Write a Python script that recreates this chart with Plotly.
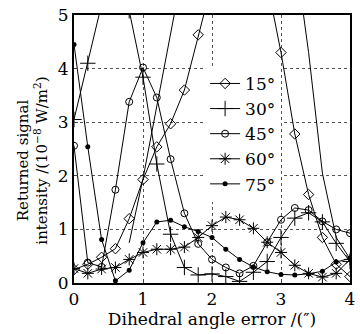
import plotly.graph_objects as go

x = [0.0, 0.2, 0.4, 0.6, 0.8, 1.0, 1.2, 1.4, 1.6, 1.8, 2.0, 2.2, 2.4, 2.6, 2.8, 3.0, 3.2, 3.4, 3.6, 3.8, 4.0]

s15 = [0.25, 0.35, 0.48, 0.64, 1.20, 1.93, 2.54, 2.97, 3.60, 4.63, 5.6, 6.3, 6.5, 6.3, 5.6, 4.30, 2.78, 1.65, 0.85, 0.35, 0.12]
s30 = [3.05, 4.10, 5.20, 5.80, 5.08, 3.84, 2.22, 0.91, 0.29, 0.15, 0.17, 0.12, 0.03, 0.20, 0.40, 0.85, 1.21, 1.31, 1.14, 0.74, 0.40]
s45 = [2.56, 0.38, 0.30, 1.74, 3.38, 4.02, 3.46, 2.31, 1.30, 0.73, 0.44, 0.29, 0.18, 0.32, 0.76, 1.18, 1.40, 1.36, 1.15, 1.00, 0.93]
s60 = [0.27, 0.18, 0.26, 0.29, 0.44, 0.57, 0.63, 0.63, 0.67, 0.85, 1.07, 1.23, 1.18, 1.02, 0.76, 0.57, 0.33, 0.18, 0.11, 0.18, 0.44]
s75 = [4.45, 2.54, 0.81, 0.04, 0.24, 0.75, 1.14, 1.17, 1.05, 0.96, 0.85, 0.63, 0.44, 0.30, 0.21, 0.16, 0.15, 0.17, 0.22, 0.39, 0.46]
# unmarked curve visible in the picture (rising past the top near 1.45, falling back near 3.33)
s_extra = [None, None, None, None, 0.75, 1.95, 3.30, 4.75, 6.0, 7.0, 7.6, 7.9, 7.9, 7.7, 7.3, 6.8, 6.2, 4.30, 2.05, 0.85, 0.45]

names = ["15°", "30°", "45°", "60°", "75°"]
FONT = "DejaVu Serif"

fig = go.Figure()
fig.add_trace(go.Scatter(x=x, y=s_extra, mode="lines", showlegend=False,
                         line=dict(color="black", width=1), connectgaps=False))
styles = [
    (s15, dict(symbol="diamond-open", size=8, color="black", line=dict(width=1, color="black"))),
    (s30, dict(symbol="cross-thin-open", size=11, color="black", line=dict(width=1, color="black"))),
    (s45, dict(symbol="circle-open", size=7, color="black", line=dict(width=1, color="black"))),
    (s60, dict(symbol="asterisk-open", size=10, color="black", line=dict(width=1, color="black"))),
    (s75, dict(symbol="circle", size=5, color="black", line=dict(width=0))),
]
for (ys, mk), nm in zip(styles, names):
    fig.add_trace(go.Scatter(x=x, y=ys, mode="lines+markers", name=nm,
                             line=dict(color="black", width=1), marker=mk))

fig.update_layout(
    width=360, height=334,
    margin=dict(l=74, r=5, t=15, b=51),
    paper_bgcolor="white", plot_bgcolor="white",
    font=dict(family=FONT, size=16, color="black"),
    showlegend=True,
    legend=dict(x=0.475, y=0.81, xanchor="left", yanchor="top",
                bgcolor="white", borderwidth=0,
                font=dict(family=FONT, size=17), tracegroupgap=0, itemwidth=30),
)
fig.update_xaxes(range=[0, 4], tickvals=[0, 1, 2, 3, 4], ticks="inside", ticklen=4,
                 showline=True, linecolor="black", linewidth=2, mirror=True,
                 showgrid=True, gridcolor="#555", griddash="dot", gridwidth=1,
                 zeroline=False, tickfont=dict(size=17),
                 title=dict(text="Dihedral angle error /(″)", font=dict(size=17), standoff=3))
fig.update_yaxes(range=[0, 5], tickvals=[0, 1, 2, 3, 4, 5], ticks="inside", ticklen=4,
                 showline=True, linecolor="black", linewidth=2, mirror=True,
                 showgrid=True, gridcolor="#555", griddash="dot", gridwidth=1,
                 zeroline=False, tickfont=dict(size=17))
fig.add_annotation(x=-0.15, y=0.455, xref="paper", yref="paper", textangle=-90,
                   text="Returned signal<br>intensity /(10<sup>−8</sup> W/m<sup>2</sup>)",
                   showarrow=False, font=dict(size=15), xanchor="center", yanchor="middle")

fig.write_html("out.html")
